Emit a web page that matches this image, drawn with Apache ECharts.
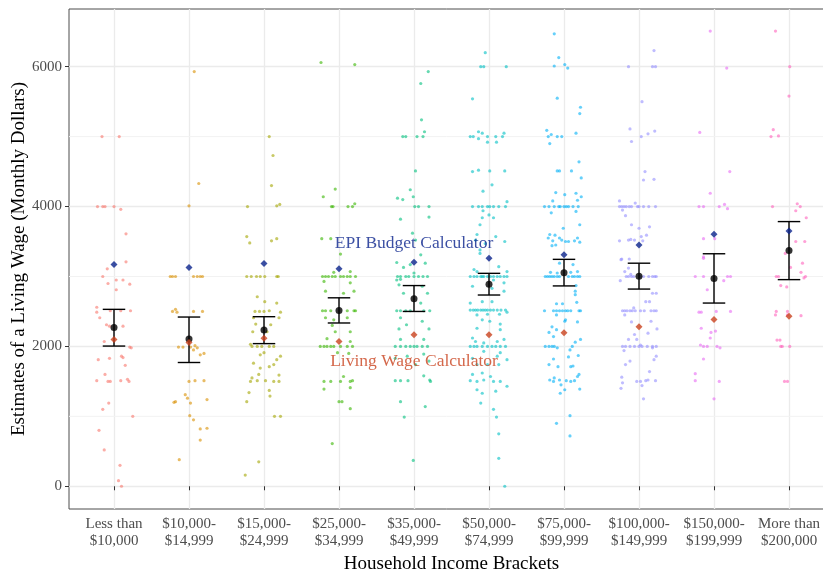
<!DOCTYPE html>
<html>
<head>
<meta charset="utf-8">
<script src="https://cdn.jsdelivr.net/npm/echarts@6.0.0/dist/echarts.min.js"></script>
<style>
html,body{margin:0;padding:0;background:#fff;}
#chart{width:823px;height:569px;}
</style>
</head>
<body>
<div id="chart"></div>
<script>
const categories = ["Less than\n$10,000","$10,000-\n$14,999","$15,000-\n$24,999","$25,000-\n$34,999","$35,000-\n$49,999","$50,000-\n$74,999","$75,000-\n$99,999","$100,000-\n$149,999","$150,000-\n$199,999","More than\n$200,000"];
const yTicks = [0, 2000, 4000, 6000];
const yMinorTicks = [1000, 3000, 5000];

// mean and confidence interval per bracket
const means  = [2270, 2105, 2235, 2515, 2680, 2890, 3055, 3005, 2970, 3370];
const ciLow  = [2005, 1770, 2040, 2335, 2500, 2735, 2865, 2820, 2620, 2955];
const ciHigh = [2530, 2420, 2425, 2695, 2870, 3045, 3245, 3190, 3325, 3785];
// reference calculators
const epiValues = [3170, 3130, 3185, 3110, 3205, 3260, 3310, 3450, 3605, 3650];
const lwcValues = [2100, 2055, 2115, 2070, 2165, 2165, 2195, 2280, 2385, 2430];

// individual estimates: [jitter (category units), monthly dollars]
const pts1 = [[-0.16,5000],[0.07,5000],[-0.22,4000],[-0.15,4000],[-0.12,4000],[0.00,4000],[0.09,3960],[0.16,3610],
[-0.09,3110],[0.16,3210],[-0.15,3000],[-0.08,2900],[0.03,2950],[0.12,2950],[0.21,2890],[0.03,2810],
[-0.23,2560],[-0.23,2490],[-0.19,2410],[-0.05,2510],[0.09,2510],[0.22,2510],[-0.10,2310],[-0.06,2290],[0.12,2290],
[-0.13,2070],[0.21,1990],[0.23,1980],[-0.21,1810],[-0.06,1830],[0.10,1860],[0.12,1840],[0.15,1730],
[-0.12,1600],[-0.23,1510],[-0.08,1500],[-0.05,1500],[0.09,1510],[0.18,1530],[0.20,1500],
[-0.07,1190],[-0.15,1100],[0.25,1000],[-0.20,800],[-0.13,520],[0.08,300],[0.06,80],[0.10,0]];
const pts2 = [[0.07,5930],[0.13,4330],[0.00,4010],
[-0.25,3000],[-0.22,3000],[-0.18,3000],[0.06,3000],[0.11,3000],[0.15,3000],[0.18,3000],
[-0.22,2500],[-0.18,2530],[-0.16,2490],[0.06,2500],[0.18,2500],
[-0.14,1990],[-0.08,1990],[0.02,1990],[0.08,2010],[0.11,1980],[0.15,1880],[0.20,1900],[0.06,1950],
[0.00,1500],[0.08,1510],[0.20,1510],[-0.05,1310],[-0.02,1260],[0.02,1190],[-0.18,1210],[-0.20,1200],[0.24,1240],[0.01,1010],[0.06,950],[0.15,820],[0.24,830],[0.15,660],[-0.13,380]];
const pts3 = [[0.07,5000],[0.12,4730],[0.10,4300],[-0.22,4000],[0.17,4010],[0.21,4030],[-0.23,3570],[-0.19,3480],[0.10,3510],[0.17,3540],
[-0.23,3000],[-0.17,3000],[-0.10,3000],[-0.05,3000],[0.01,3000],[0.17,3000],[0.19,3000],
[-0.09,2710],[0.01,2640],[0.17,2620],[-0.12,2500],[-0.06,2500],[0.00,2500],[0.07,2510],[0.22,2490],[-0.14,2410],[0.20,2410],[-0.11,2320],[0.09,2310],[-0.15,2210],[0.04,2210],
[-0.18,2030],[-0.16,2000],[-0.09,2000],[-0.03,2000],[0.07,2000],[0.13,2000],[-0.05,1880],[0.00,1910],[0.22,1860],[0.17,1810],[-0.14,1760],[-0.05,1690],[0.07,1710],[0.13,1740],
[-0.16,1550],[-0.18,1500],[-0.09,1510],[0.02,1510],[0.13,1500],[0.20,1500],[-0.07,1600],[0.20,1590],[-0.20,1340],[0.07,1370],[0.08,1290],[-0.23,1210],[0.14,1000],[0.22,1000],[-0.07,350],[-0.25,160]];
const pts4 = [[-0.24,6060],[0.21,6030],[-0.21,4140],[-0.05,4250],[-0.10,4000],[-0.08,4000],[0.12,4000],[0.18,4000],[0.21,4040],[-0.23,3540],[-0.11,3540],[0.02,3320],
[-0.22,3000],[-0.18,3000],[-0.14,3000],[-0.09,3000],[-0.05,3000],[0.02,3000],[0.06,3000],[0.11,3000],[0.15,3000],[0.22,3000],[-0.20,2930],[0.15,2910],[-0.07,3060],[0.15,3070],
[0.20,2790],[0.06,2760],[-0.18,2790],
[-0.22,2510],[-0.18,2510],[-0.11,2510],[0.11,2510],[0.20,2510],[0.22,2510],[-0.18,2410],[-0.07,2380],[0.11,2410],[-0.09,2300],[-0.05,2210],[0.15,2210],
[-0.25,2000],[-0.20,2000],[-0.16,2000],[-0.11,2000],[-0.07,2000],[0.02,2000],[0.11,2000],[0.18,2000],[-0.16,2110],[0.15,2070],[-0.02,1910],[0.13,1900],
[-0.20,1500],[-0.11,1500],[0.02,1500],[0.15,1500],[0.18,1510],[0.06,1570],[-0.20,1390],[0.15,1410],[0.00,1210],[0.04,1210],[0.15,1110],[-0.09,610]];
const pts5 = [[0.19,5930],[0.09,5760],[0.10,5240],[-0.15,5000],[-0.11,5000],[0.04,5000],[0.12,5000],[0.14,5070],[0.02,4510],[-0.05,4240],[-0.15,4100],[-0.01,4140],[-0.22,4120],[0.01,4000],[0.06,4000],[0.20,4000],[-0.18,3820],[0.20,3850],[-0.02,3620],[0.02,3520],
[-0.22,3000],[-0.18,3000],[-0.11,3000],[-0.07,3000],[0.00,3000],[0.06,3000],[0.12,3000],[0.18,3000],[-0.23,2950],[-0.18,2960],[0.00,3050],[-0.14,3130],[-0.23,3200],[-0.05,3170],[0.15,3190],[0.09,3310],
[-0.20,2880],[0.11,2860],[0.18,2760],[-0.14,2760],[0.09,2620],
[-0.23,2510],[-0.18,2510],[-0.11,2510],[-0.05,2510],[0.13,2510],[0.21,2510],[-0.18,2410],[0.11,2360],[-0.10,2310],[-0.20,2250],[0.20,2250],
[-0.25,2000],[-0.18,2000],[-0.11,2000],[-0.05,2000],[0.00,2000],[0.04,2000],[0.11,2000],[0.18,2000],[-0.18,2100],[0.13,2100],
[-0.25,1830],[-0.09,1860],[0.13,1890],[0.02,1740],[0.20,1790],
[-0.25,1510],[-0.18,1510],[-0.08,1510],[0.13,1580],[0.22,1500],[0.21,1520],
[-0.18,1210],[0.15,1140],[-0.13,990],[-0.01,370]];
const pts6 = [[-0.05,6200],[-0.11,6000],[-0.07,6000],[0.23,6000],[-0.22,5540],
[-0.25,5000],[-0.21,5000],[-0.14,5070],[-0.09,5050],[-0.02,5000],[-0.02,4920],[0.09,5000],[0.18,5000],[0.20,5050],[0.10,4920],[-0.14,4970],
[-0.22,4500],[-0.14,4520],[0.01,4510],[0.21,4510],[-0.08,4220],[0.04,4310],
[-0.22,4000],[-0.14,4000],[-0.09,4000],[-0.02,4000],[0.01,4000],[0.06,4000],[0.13,4000],[0.22,4000],[0.24,4070],[-0.08,3940],[0.00,3880],[-0.09,3840],[0.06,3840],[-0.12,3740],[-0.16,3600],[-0.18,3520],[0.09,3570],[0.21,3500],[-0.05,3470],[-0.12,3380],
[-0.12,3330],[0.13,3140],[-0.20,3100],[-0.16,3070],[0.24,3070],
[-0.25,3000],[-0.20,3000],[-0.16,3000],[-0.11,3000],[-0.07,3000],[-0.02,3000],[0.02,3000],[0.06,3000],[0.11,3000],[0.15,3000],[0.20,3000],[0.24,3000],
[-0.09,3000],[0.06,2950],[0.20,2910],[-0.22,2860],[0.04,2830],[0.20,2790],[-0.25,2620],[-0.09,2640],[0.04,2640],
[-0.25,2520],[-0.21,2520],[-0.18,2520],[-0.15,2520],[-0.11,2520],[-0.08,2520],[-0.05,2520],[-0.02,2520],[0.02,2520],[0.06,2520],[0.11,2520],[0.16,2520],[0.22,2520],
[-0.16,2450],[-0.02,2460],[0.14,2460],[0.24,2490],[-0.09,2380],[0.01,2360],[0.15,2320],[-0.16,2260],[0.15,2240],
[-0.22,2120],[-0.18,2070],[-0.07,2050],[0.11,2070],[0.20,2100],
[-0.25,2000],[-0.20,2000],[-0.16,2000],[-0.09,2000],[-0.02,2000],[0.04,2000],[0.09,2000],[0.15,2000],[0.22,2000],
[-0.07,1930],[0.15,1910],[-0.22,1830],[0.11,1860],[0.24,1810],[-0.16,1740],[-0.02,1740],[0.13,1740],
[-0.22,1600],[-0.09,1620],[0.02,1570],[-0.25,1510],[-0.16,1500],[-0.07,1520],[0.06,1500],[0.15,1500],[0.24,1430],[-0.16,1380],[-0.09,1330],[0.09,1360],[-0.11,1190],[0.06,1100],[0.10,990],[0.13,750],[0.13,400],[0.21,0]];
const pts7 = [[-0.13,6470],[-0.07,6130],[-0.13,6010],[0.01,6030],[0.05,5980],[-0.09,5550],[0.22,5420],[0.21,5330],
[-0.23,5090],[-0.21,5000],[-0.17,5030],[-0.09,5000],[-0.03,5000],[0.16,5050],[-0.19,4900],[0.20,4640],
[-0.09,4510],[-0.06,4510],[0.10,4510],[0.23,4410],[-0.11,4200],[0.01,4170],[0.16,4190],[0.23,4140],[-0.15,4080],
[-0.26,4000],[-0.20,4000],[-0.13,4000],[-0.07,4000],[-0.05,4000],[0.00,4000],[0.03,4000],[0.06,4000],[0.12,4000],[0.19,4000],[0.18,4090],[-0.17,3910],[0.16,3930],[-0.01,3690],[0.21,3740],
[-0.19,3600],[-0.12,3590],[-0.21,3550],[-0.15,3510],[-0.06,3550],[-0.03,3520],[0.02,3500],[0.06,3500],[0.14,3510],[0.18,3550],[0.21,3490],[-0.16,3440],[-0.11,3450],
[-0.06,3190],[0.12,3170],[-0.18,3060],[-0.09,3050],[0.09,3060],[0.18,3070],
[-0.25,3000],[-0.22,3000],[-0.19,3000],[-0.16,3000],[-0.13,3000],[-0.09,3000],[-0.06,3000],[0.06,3000],[0.11,3000],[0.14,3000],[0.18,3000],[0.21,3000],
[0.16,2870],[0.15,2790],[0.15,2740],[0.17,2630],[-0.10,2610],[-0.02,2610],
[-0.26,2510],[-0.14,2510],[-0.10,2510],[-0.06,2510],[-0.02,2510],[0.02,2510],[0.05,2510],[0.09,2510],[0.20,2510],[0.22,2510],
[-0.10,2450],[0.02,2380],[0.01,2360],[0.18,2350],[-0.16,2280],[-0.10,2240],[-0.20,2200],[-0.14,2140],[0.22,2100],[0.15,2060],
[0.11,2000],[-0.25,2000],[-0.20,2000],[-0.16,2000],[-0.13,2000],[-0.09,1980],[0.08,1950],[0.06,1850],[0.19,1870],[-0.14,1820],[-0.20,1740],[-0.08,1710],[0.09,1710],[0.12,1720],
[0.20,1600],[0.18,1570],[-0.19,1520],[-0.13,1550],[-0.14,1500],[-0.06,1520],[0.03,1510],[0.09,1500],[0.14,1510],[-0.04,1450],[0.01,1380],[-0.05,1330],[0.21,1390],[0.08,1010],[-0.10,900],[0.08,720]];
const pts8 = [[-0.14,6000],[0.18,6000],[0.22,6000],[0.20,6230],[0.04,5500],[-0.12,5110],[0.21,5080],[0.12,5040],[0.03,5000],[-0.10,4930],[0.08,4500],[0.06,4380],[0.20,4390],[-0.26,4080],[-0.22,3950],[-0.05,4050],
[-0.26,4000],[-0.23,4000],[-0.20,4000],[-0.17,4000],[-0.13,4000],[-0.10,4000],[-0.02,4000],[0.00,4000],[0.06,4000],[0.13,4000],[0.22,4000],
[-0.18,3870],[-0.10,3740],[0.00,3690],[0.14,3710],[0.10,3590],[0.03,3570],[-0.26,3510],[-0.14,3520],[-0.11,3530],[-0.06,3520],[0.05,3510],[-0.23,3250],[-0.13,3250],
[-0.24,3240],[-0.14,3120],[-0.19,3070],[-0.25,2940],
[-0.17,3000],[-0.14,3000],[-0.10,3000],[-0.07,3000],[0.02,3000],[0.06,3000],[0.13,3000],[0.18,3000],[0.21,3000],[0.23,3000],[-0.11,3030],
[0.18,2760],[0.23,2760],[0.09,2640],[0.14,2640],
[-0.22,2510],[-0.19,2510],[-0.16,2510],[-0.12,2510],[-0.09,2510],[-0.05,2510],[0.02,2510],[0.07,2510],[0.16,2510],[0.20,2510],[0.23,2510],
[-0.19,2450],[-0.07,2550],[-0.10,2350],[0.16,2360],[0.24,2250],[0.12,2190],[-0.06,2170],[-0.14,2100],[-0.03,2100],[0.02,2020],
[-0.22,2000],[-0.18,2000],[-0.12,2000],[-0.06,2000],[0.00,2000],[0.04,2000],[0.11,2000],[0.18,2000],[0.23,2000],
[-0.20,1940],[0.18,1980],[0.23,1860],[0.20,1810],[-0.12,1790],[-0.18,1740],[0.14,1640],[-0.23,1560],[0.12,1520],[-0.22,1480],[-0.03,1500],[0.02,1500],[0.09,1510],[0.22,1510],[-0.24,1400],[0.04,1440],[0.06,1250]];
const pts9 = [[-0.05,6510],[0.17,5980],[-0.19,5060],[0.21,4500],[-0.05,4190],[-0.20,4000],[-0.14,4000],[0.07,4000],[0.14,4030],[0.18,3970],[-0.14,3540],[0.01,3540],[-0.14,3280],[-0.14,3260],
[-0.25,3000],[-0.14,3000],[0.13,2940],[0.18,3000],[0.22,3000],[-0.09,2810],
[-0.20,2490],[-0.17,2490],[0.03,2500],[0.22,2500],[-0.17,2260],[-0.04,2200],[0.02,2220],[-0.05,2120],
[-0.18,2020],[-0.14,2000],[-0.09,2000],[0.04,2000],[0.08,1980],[-0.14,1820],[-0.25,1610],[-0.25,1510],[0.07,1500],[0.00,1250]];
const pts10 = [[-0.18,6510],[0.01,6000],[0.00,5580],[-0.21,5100],[-0.14,5010],[-0.24,5000],[0.11,4040],[-0.22,4000],[0.15,4000],[0.09,3940],[0.23,3840],[0.09,3500],[0.21,3500],[-0.05,3330],
[0.02,3130],[0.18,3190],[-0.17,3000],[-0.14,3000],[0.16,3060],[0.22,3000],[0.20,2980],[-0.11,2870],[-0.03,2850],
[-0.17,2500],[-0.18,2450],[-0.02,2500],[-0.02,2450],[0.16,2440],[-0.16,2090],[-0.12,2090],[-0.11,2000],[-0.09,2000],[0.01,2000],[-0.06,1500],[-0.02,1500]];

const pointSets = [pts1, pts2, pts3, pts4, pts5, pts6, pts7, pts8, pts9, pts10];
const hueColors = ["#F8766D","#D89000","#A3A500","#39B600","#00BF7D","#00BFC4","#00B0F6","#9590FF","#E76BF3","#FF62BC"];

const catPos = categories.map((c, i) => i + 1);
const xMin = 0.4, xMax = 10.6, yMin = -325, yMax = 6825;
const serif = "'Liberation Serif','DejaVu Serif',serif";

const series = [];
// minor horizontal grid lines
series.push({
  type: 'custom', silent: true, z: 0,
  data: yMinorTicks.map(v => [v]),
  renderItem: function (params, api) {
    const v = api.value(0);
    const a = api.coord([xMin, v]);
    const b = api.coord([xMax, v]);
    return {type: 'line', shape: {x1: a[0], y1: a[1], x2: b[0], y2: b[1]}, style: {stroke: '#f2f2f2', lineWidth: 1}};
  }
});
pointSets.forEach((set, i) => {
  series.push({
    type: 'scatter',
    data: set.map(p => [catPos[i] + p[0], p[1]]),
    symbol: 'circle',
    symbolSize: 3.2,
    itemStyle: {color: hueColors[i], opacity: 0.6},
    silent: true, z: 2
  });
});
series.push({
  type: 'custom',
  data: catPos.map((x, i) => [x, ciLow[i], ciHigh[i]]),
  renderItem: function (params, api) {
    const x = api.value(0);
    const lo = api.coord([x, api.value(1)]);
    const hi = api.coord([x, api.value(2)]);
    const hw = api.size([0.15, 0])[0];
    const style = {stroke: '#000', lineWidth: 1.4, fill: null};
    return {type: 'group', children: [
      {type: 'line', shape: {x1: lo[0], y1: lo[1], x2: hi[0], y2: hi[1]}, style: style},
      {type: 'line', shape: {x1: lo[0]-hw, y1: lo[1], x2: lo[0]+hw, y2: lo[1]}, style: style},
      {type: 'line', shape: {x1: hi[0]-hw, y1: hi[1], x2: hi[0]+hw, y2: hi[1]}, style: style}
    ]};
  },
  z: 3, silent: true
});
series.push({type: 'scatter', data: catPos.map((x, i) => [x, means[i]]), symbol: 'circle', symbolSize: 7, itemStyle: {color: '#000'}, z: 4, silent: true});
series.push({type: 'scatter', data: catPos.map((x, i) => [x, epiValues[i]]), symbol: 'diamond', symbolSize: 7, itemStyle: {color: '#0a238c'}, z: 5, silent: true});
series.push({type: 'scatter', data: catPos.map((x, i) => [x, lwcValues[i]]), symbol: 'diamond', symbolSize: 7, itemStyle: {color: '#c9421e'}, z: 5, silent: true});
series.push({
  type: 'scatter', symbolSize: 0, silent: true, z: 6,
  data: [
    {value: [5, 3470], label: {formatter: 'EPI Budget Calculator', color: '#0a238c'}},
    {value: [5, 1780], label: {formatter: 'Living Wage Calculator', color: '#c9421e'}}
  ],
  label: {show: true, position: 'inside', fontFamily: serif, fontSize: 17.5}
});

const chart = echarts.init(document.getElementById('chart'), null, {renderer: 'canvas'});
chart.setOption({
  animation: false,
  backgroundColor: '#fff',
  grid: {left: 69, top: 9, width: 765, height: 500, show: true, borderColor: '#4d4d4d', borderWidth: 1, backgroundColor: 'transparent', containLabel: false, outerBoundsMode: 'none'},
  xAxis: {
    type: 'value', min: xMin, max: xMax,
    name: 'Household Income Brackets', nameLocation: 'middle', nameGap: 41,
    nameTextStyle: {fontFamily: serif, fontSize: 19, color: '#000'},
    axisLine: {show: false},
    axisTick: {show: true, length: 4, lineStyle: {color: '#333'}, customValues: catPos},
    axisLabel: {customValues: catPos, formatter: v => categories[Math.round(v) - 1], fontFamily: serif, fontSize: 15, color: '#4d4d4d', lineHeight: 17.5, margin: 6},
    splitLine: {show: true, lineStyle: {color: '#ebebeb', width: 1.3}}
  },
  yAxis: {
    type: 'value', min: yMin, max: yMax,
    name: 'Estimates of a Living Wage (Monthly Dollars)', nameLocation: 'middle', nameGap: 40, nameRotate: 90,
    nameMoveOverlap: false,
    nameTextStyle: {fontFamily: serif, fontSize: 19, color: '#000'},
    axisLine: {show: false},
    axisTick: {show: true, length: 4, lineStyle: {color: '#333'}, customValues: yTicks},
    axisLabel: {customValues: yTicks, formatter: v => String(v), fontFamily: serif, fontSize: 15, color: '#4d4d4d', margin: 7},
    splitLine: {show: true, lineStyle: {color: '#ebebeb', width: 1.3}}
  },
  series: series
});
</script>
</body>
</html>
